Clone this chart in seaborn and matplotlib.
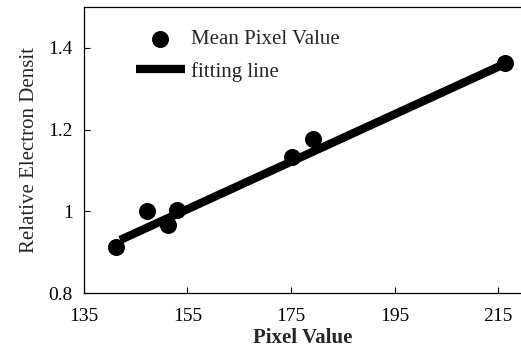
import numpy as np
import pandas as pd
import seaborn as sns
from matplotlib import pyplot as plt

# mean pixel values
pixel = [141.2, 147.2, 151.2, 153.0, 175.1, 179.3, 216.4]
density = [0.912, 1.000, 0.966, 1.003, 1.132, 1.178, 1.362]

# fitting line end points
fit_x = [142.0, 216.4]
fit_y = [0.930, 1.362]

xticks = [135, 155, 175, 195, 215]
yticks = [0.8, 1.0, 1.2, 1.4]
ytick_labels = ['0.8', '1', '1.2', '1.4']

sns.set_style("ticks")
plt.rcParams['font.family'] = ['Liberation Serif', 'DejaVu Serif']

df = pd.DataFrame({'pixel': pixel, 'density': density})
fit = pd.DataFrame({'x': fit_x, 'y': fit_y})

fig = plt.figure(figsize=(5.21, 3.54), dpi=100)
ax = fig.add_axes([0.161, 0.172, 0.839, 0.808])

sns.lineplot(data=fit, x='x', y='y', ax=ax, color='black', linewidth=6,
             label='fitting line', solid_capstyle='butt')
sns.scatterplot(data=df, x='pixel', y='density', ax=ax, color='black', s=150,
                edgecolor='black', linewidth=0, label='Mean Pixel Value', zorder=3)

ax.set_xlim(135, 219.4)
ax.set_ylim(0.8, 1.5)
ax.set_xticks(xticks)
ax.set_yticks(yticks)
ax.set_yticklabels(ytick_labels)
ax.tick_params(direction='in', length=4, width=0.8, labelsize=14, colors='black')
ax.tick_params(axis='x', pad=11)
ax.tick_params(axis='y', pad=8)
ax.spines['right'].set_visible(False)
for s in ['left', 'bottom', 'top']:
    ax.spines[s].set_color('black')
    ax.spines[s].set_linewidth(0.9)

ax.set_xlabel('Pixel Value', fontsize=15, fontweight='bold', labelpad=2)
ax.set_ylabel('Relative Electron Densit', fontsize=15, labelpad=7)

handles, labels = ax.get_legend_handles_labels()
order = [labels.index('Mean Pixel Value'), labels.index('fitting line')]
ax.legend([handles[i] for i in order], [labels[i] for i in order],
          loc='upper left', bbox_to_anchor=(0.119, 0.921), frameon=False,
          fontsize=15, handlelength=2.36, handletextpad=0.3, labelspacing=0.6,
          borderaxespad=0, borderpad=0)

fig.savefig('out.png', dpi=100)
